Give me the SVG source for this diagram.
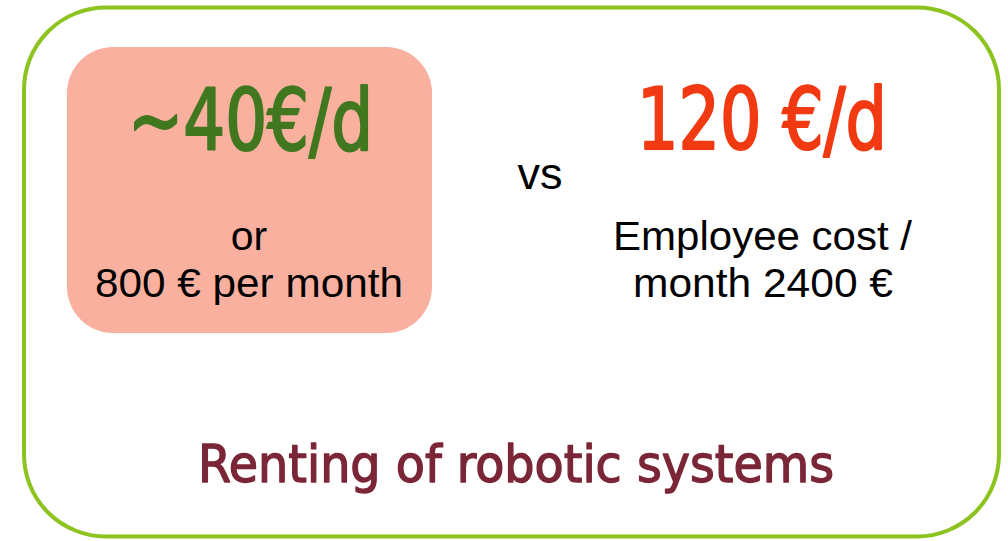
<svg xmlns="http://www.w3.org/2000/svg" width="1008" height="541" viewBox="0 0 1008 541">
<style>
.din{font-family:"DejaVu Sans",sans-serif;font-stretch:condensed;text-anchor:middle;stroke-linejoin:round}
.ar{font-family:"Liberation Sans",Arial,sans-serif;fill:#000;text-anchor:middle}
</style>
<rect width="1008" height="541" fill="#fff"/>
<g id="frame">
<rect x="24" y="7.5" width="975" height="529" rx="82" ry="82" fill="#fff" stroke="#8cc31e" stroke-width="4"/>
</g>
<g id="rent-box">
<rect x="67" y="47" width="365" height="286" rx="46" ry="46" fill="#f9b09e"/>
<text class="din" x="250.5" y="150" font-size="85" fill="#41781f" stroke="#41781f" stroke-width="2.2" textLength="245" lengthAdjust="spacingAndGlyphs">~40€/d</text>
<text class="ar" x="249" y="250" font-size="41">or</text>
<text class="ar" x="249" y="297" font-size="41" textLength="308" lengthAdjust="spacingAndGlyphs">800 € per month</text>
</g>
<g id="vs">
<text class="ar" x="540" y="189" font-size="45">vs</text>
</g>
<g id="employee">
<text class="din" x="762" y="149" font-size="85" fill="#f23a12" stroke="#f23a12" stroke-width="2.2" textLength="250" lengthAdjust="spacingAndGlyphs">120 €/d</text>
<text class="ar" x="762.5" y="250" font-size="41" textLength="299" lengthAdjust="spacingAndGlyphs">Employee cost /</text>
<text class="ar" x="763" y="297" font-size="41" textLength="260" lengthAdjust="spacingAndGlyphs">month 2400 €</text>
</g>
<g id="title">
<text class="din" x="516" y="482" font-size="51" fill="#7b2636" stroke="#7b2636" stroke-width="1.3" textLength="636" lengthAdjust="spacingAndGlyphs">Renting of robotic systems</text>
</g>
<g id="connectors"/>
</svg>
